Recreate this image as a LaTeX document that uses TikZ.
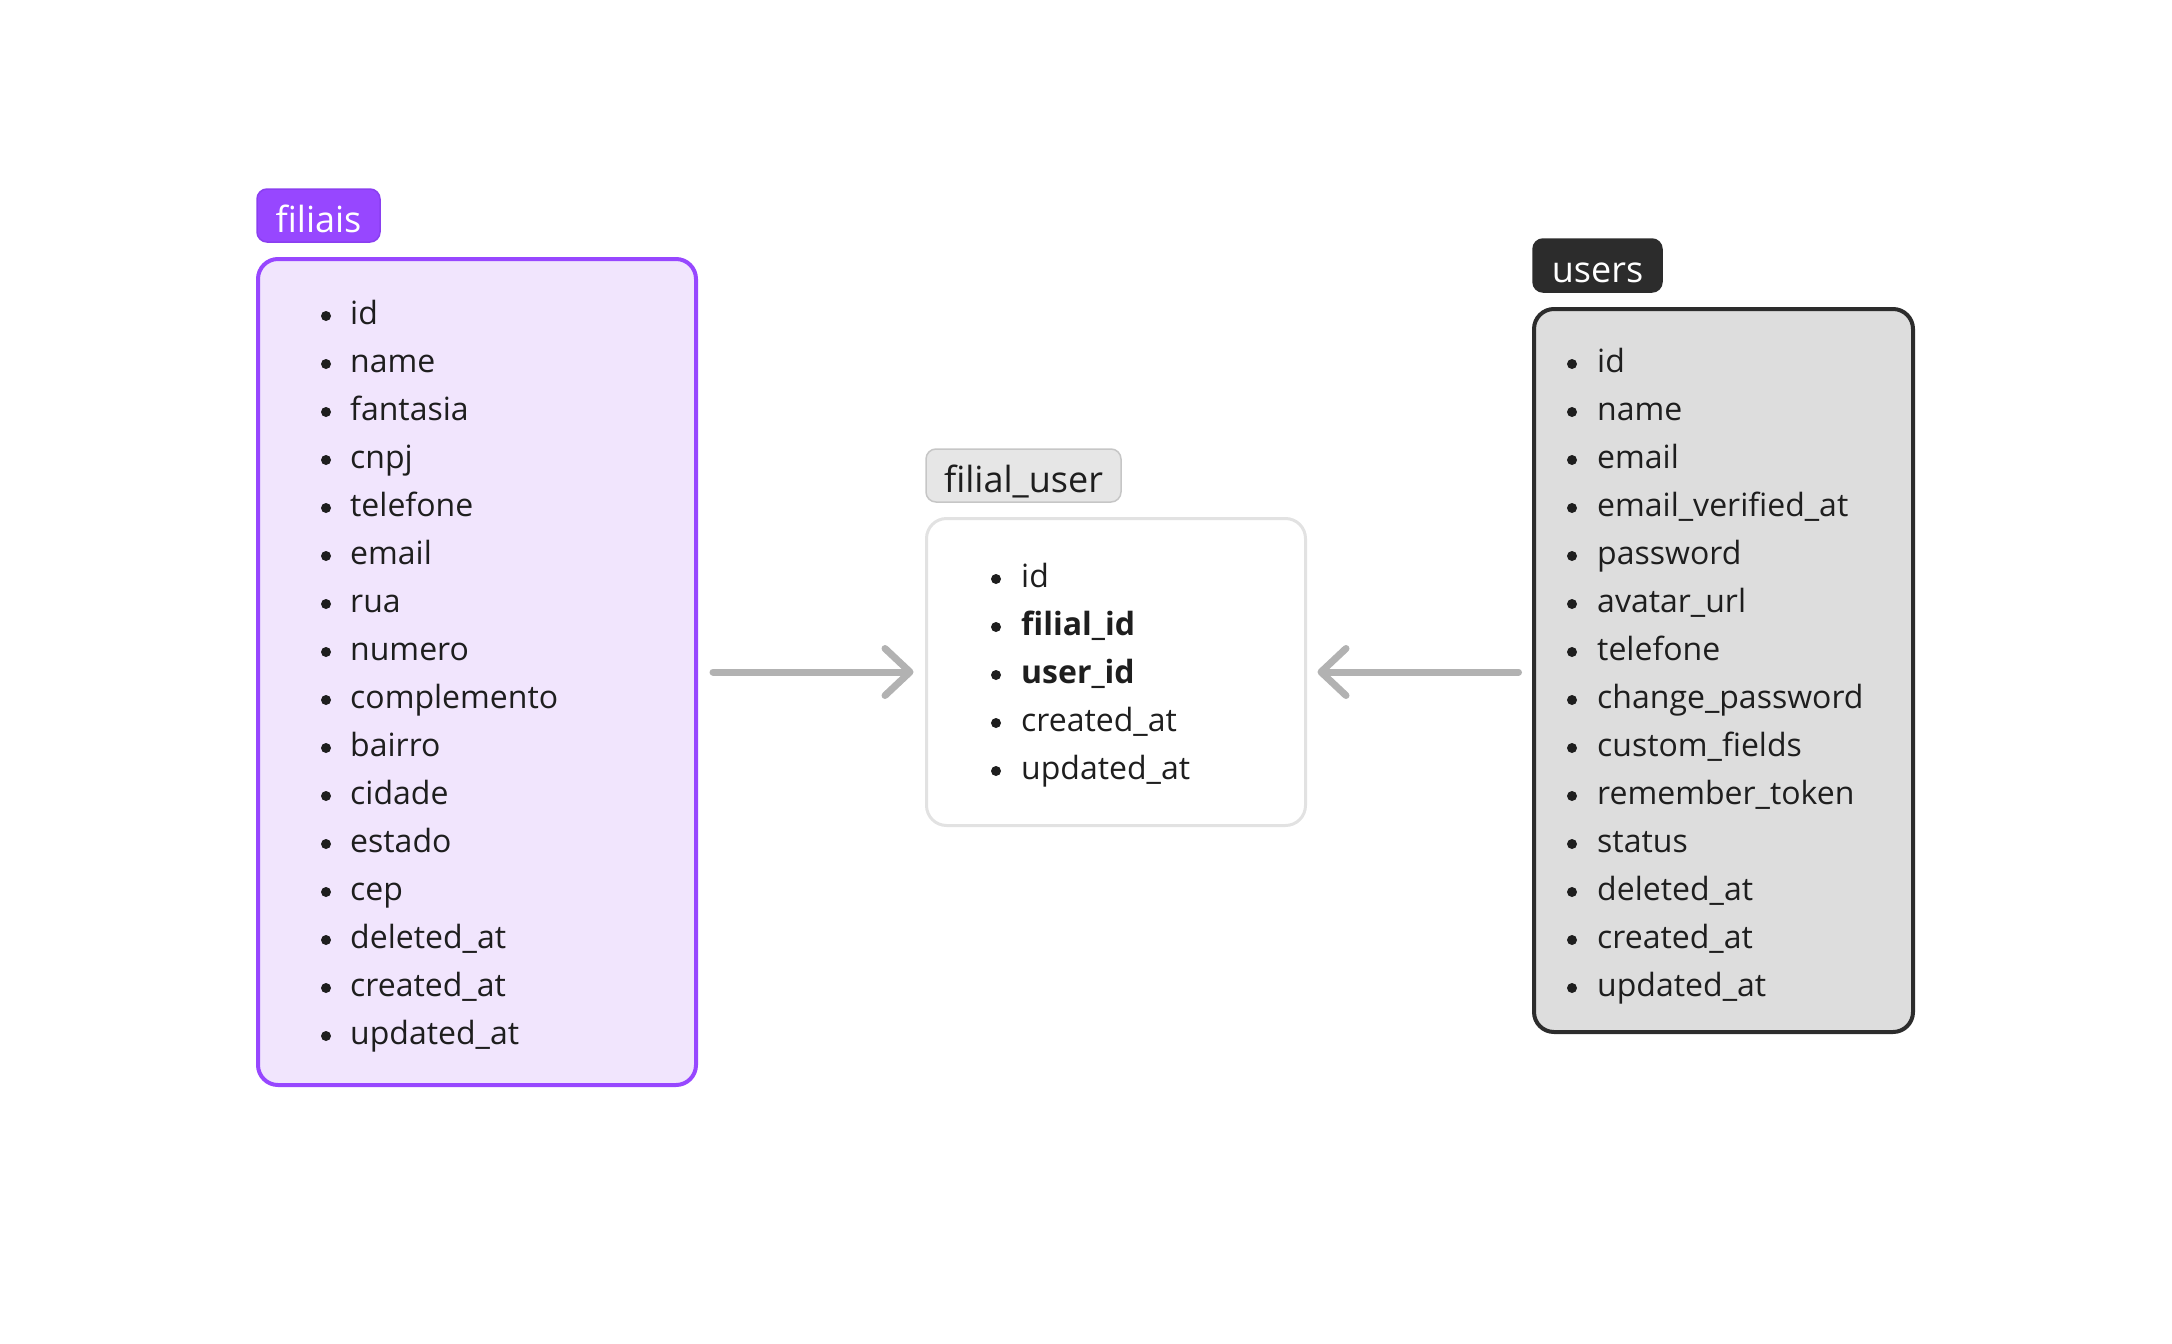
\documentclass[tikz,border=0pt]{standalone}
\usepackage{fontspec}
\setmainfont{Open Sans}
\usetikzlibrary{arrows.meta}
\definecolor{purp}{HTML}{9747FF}
\definecolor{purpline}{HTML}{8A3FF0}
\definecolor{purpfill}{HTML}{F1E5FD}
\definecolor{ink}{HTML}{1E1E1E}
\definecolor{dark}{HTML}{2C2C2C}
\definecolor{usersfill}{HTML}{DDDDDD}
\definecolor{lightlab}{HTML}{E6E6E6}
\definecolor{lightlabline}{HTML}{C6C6C6}
\definecolor{lightbox}{HTML}{E2E2E2}
\definecolor{arrowgray}{HTML}{B2B2B2}
\begin{document}
\begin{tikzpicture}[x=1pt,y=-1pt,
  tablebox/.style={rounded corners=20pt, anchor=north west, inner sep=0pt, outer sep=0pt},
  tag/.style={rounded corners=10pt, inner sep=0pt, text height=33pt, text depth=0pt, minimum height=53pt, font=\fontsize{36}{40}\selectfont},
  item/.style={anchor=base west, inner sep=0pt, text=ink, font=\fontsize{32}{36}\selectfont},
  bul/.style={circle, fill=ink, inner sep=0pt, minimum size=10pt},
  arr/.style={draw=arrowgray, line width=7pt, line cap=round, -{Straight Barb[length=25pt,width=47pt,round]}}
]
\useasboundingbox (0,0) rectangle (2172,1344);

% filiais
\node[tablebox, draw=purp, fill=purpfill, line width=4pt, minimum width=438pt, minimum height=826pt] (filiais) at (258,259) {};
\node[tag, fill=purp, draw=purpline, line width=1.5pt, minimum width=123pt, text=white] (filiaisTag) at (318.5,215.5) {filiais};
\foreach \t [count=\i] in {id,name,fantasia,cnpj,telefone,email,rua,numero,complemento,bairro,cidade,estado,cep,deleted\_at,created\_at,updated\_at}{
  \node[bul] (fb\i) at (326,{324+48*(\i-1)-8}) {};
  \node[item] (fi\i) at (350,{324+48*(\i-1)}) {\t};
}

% filial_user
\node[tablebox, draw=lightbox, fill=white, line width=3pt, minimum width=379pt, minimum height=307pt] (fu) at (926.5,518.5) {};
\node[tag, fill=lightlab, draw=lightlabline, line width=1.5pt, minimum width=195pt, text=ink] (fuTag) at (1023.5,475.5) {filial\_user};
\foreach \t [count=\i] in {id,\textbf{filial\_id},\textbf{user\_id},created\_at,updated\_at}{
  \node[bul] (ub\i) at (996,{587+48*(\i-1)-8}) {};
  \node[item] (ui\i) at (1021,{587+48*(\i-1)}) {\t};
}

% users
\node[tablebox, draw=dark, fill=usersfill, line width=4pt, minimum width=379pt, minimum height=723pt] (users) at (1534,309) {};
\node[tag, fill=dark, draw=dark, line width=1.5pt, minimum width=129pt, text=white] (usersTag) at (1597.5,265.5) {users};
\foreach \t [count=\i] in {id,name,email,email\_verified\_at,password,avatar\_url,telefone,change\_password,custom\_fields,remember\_token,status,deleted\_at,created\_at,updated\_at}{
  \node[bul] (sb\i) at (1572,{372+48*(\i-1)-8}) {};
  \node[item] (si\i) at (1597,{372+48*(\i-1)}) {\t};
}

% arrows
\draw[arr] ([xshift=17pt]filiais.east |- fu.west) -- ([xshift=-13pt]fu.west);
\draw[arr] ([xshift=-15.5pt]users.west |- fu.east) -- ([xshift=12pt]fu.east);
\end{tikzpicture}
\end{document}
